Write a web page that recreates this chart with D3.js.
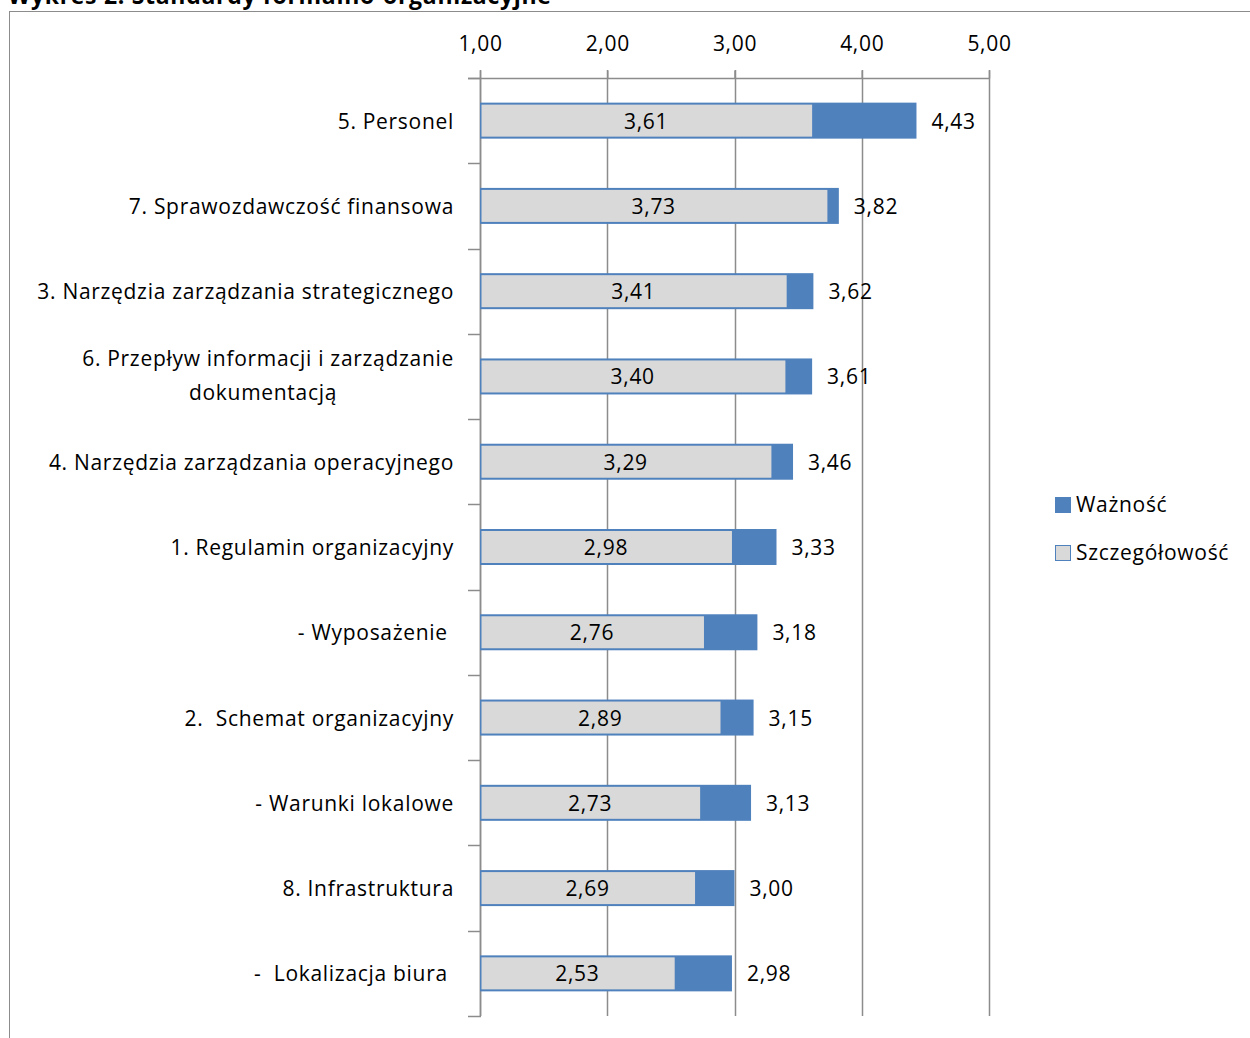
<!DOCTYPE html>
<html>
<head>
<meta charset="utf-8">
<script src="https://cdn.jsdelivr.net/npm/d3@7"></script>
<style>
  html, body { margin: 0; padding: 0; background: #fff; }
  svg text { font-family: "Open Sans", Lato, sans-serif; fill: #000; white-space: pre; letter-spacing: 0.7px; }
</style>
</head>
<body>
<svg id="chart" width="1250" height="1038"></svg>
<script>
// Categories, top to bottom
const categories = [
  "5. Personel",
  "7. Sprawozdawczość finansowa",
  "3. Narzędzia zarządzania strategicznego",
  "6. Przepływ informacji i zarządzanie|dokumentacją",
  "4. Narzędzia zarządzania operacyjnego",
  "1. Regulamin organizacyjny",
  "- Wyposażenie ",
  "2.  Schemat organizacyjny",
  "- Warunki lokalowe",
  "8. Infrastruktura",
  "-  Lokalizacja biura "
];
const waznosc = [4.43, 3.82, 3.62, 3.61, 3.46, 3.33, 3.18, 3.15, 3.13, 3.00, 2.98];
const szczegolowosc = [3.61, 3.73, 3.41, 3.40, 3.29, 2.98, 2.76, 2.89, 2.73, 2.69, 2.53];
const xTicks = [1, 2, 3, 4, 5];
const seriesNames = ["Ważność", "Szczegółowość"];

const FS = "21px";
const fmt = v => d3.format(".2f")(v).replace(".", ",");
const svg = d3.select("#chart");

// title (mostly above the visible area) and chart frame
svg.append("text").attr("x", 8).attr("y", 4)
  .style("font-weight", "bold").style("font-size", "23px")
  .text("Wykres 2. Standardy formalno-organizacyjne");
svg.append("rect").attr("x", 9.5).attr("y", 11.5).attr("width", 1260).attr("height", 1060)
  .attr("fill", "none").attr("stroke", "#8c8c8c").attr("stroke-width", 1);

const x = d3.scaleLinear().domain([1, 5]).range([480, 989]);
const y = d3.scaleBand().domain(d3.range(categories.length)).range([78, 1016]);
const barH = 36;

// vertical grid lines
svg.append("g").selectAll("line").data(xTicks).join("line")
  .attr("x1", d => Math.round(x(d)) + 0.5).attr("x2", d => Math.round(x(d)) + 0.5)
  .attr("y1", 70).attr("y2", 1016)
  .attr("stroke", "#8c8c8c").attr("stroke-width", 1.5);

// top axis
const topAxis = svg.append("g").attr("transform", "translate(0,78.5)")
  .call(d3.axisTop(x).tickValues(xTicks).tickFormat(fmt).tickSize(8).tickPadding(20));
topAxis.select(".domain").attr("stroke", "#8c8c8c").attr("stroke-width", 1.5)
  .attr("d", `M468,0H${x(5)}`);
topAxis.selectAll(".tick line").attr("stroke", "#8c8c8c").attr("stroke-width", 1.5);
topAxis.selectAll(".tick text").style("font-family", "'Open Sans', sans-serif").style("font-size", FS).attr("fill", "#000");

// category axis with ticks at band boundaries
const bounds = d3.range(categories.length + 1).map(i => 78 + i * y.step());
svg.append("line").attr("x1", 480.5).attr("x2", 480.5).attr("y1", 78).attr("y2", 1016)
  .attr("stroke", "#8c8c8c").attr("stroke-width", 1.5);
svg.append("g").selectAll("line").data(bounds).join("line")
  .attr("x1", 468).attr("x2", 481).attr("y1", d => Math.round(d) + 0.5).attr("y2", d => Math.round(d) + 0.5)
  .attr("stroke", "#8c8c8c").attr("stroke-width", 1.5);

// category labels
svg.append("g").selectAll("text").data(categories).join("text")
  .attr("text-anchor", "end").style("font-size", FS)
  .each(function (d, i) {
    const lines = d.split("|");
    const cy = y(i) + y.bandwidth() / 2;
    const t = d3.select(this);
    if (lines.length === 1) {
      t.attr("x", 454).attr("y", cy + 8).text(d);
    } else {
      t.attr("x", 454).attr("y", cy - 10).text(lines[0]);
      d3.select(this.parentNode).append("text").attr("text-anchor", "middle").style("font-size", FS)
        .attr("x", 263).attr("y", cy + 24).text(lines[1]);
    }
  });

// Ważność bars (blue), drawn behind
const bars = svg.append("g");
bars.selectAll("rect.w").data(waznosc).join("rect").attr("class", "w")
  .attr("x", x(1)).attr("y", (d, i) => y(i) + (y.bandwidth() - barH) / 2)
  .attr("width", d => x(d) - x(1)).attr("height", barH)
  .attr("fill", "#4f81bd");
// Szczegółowość bars (grey) on top, inset inside the blue outline
bars.selectAll("rect.s").data(szczegolowosc).join("rect").attr("class", "s")
  .attr("x", x(1) + 1.5).attr("y", (d, i) => y(i) + (y.bandwidth() - barH) / 2 + 2)
  .attr("width", d => x(d) - x(1) - 1.5).attr("height", barH - 4)
  .attr("fill", "#d9d9d9");

// value labels
svg.append("g").selectAll("text").data(szczegolowosc).join("text")
  .attr("text-anchor", "middle").style("font-size", FS)
  .attr("x", d => (x(1) + x(d)) / 2).attr("y", (d, i) => y(i) + y.bandwidth() / 2 + 8)
  .text(fmt);
svg.append("g").selectAll("text").data(waznosc).join("text")
  .attr("text-anchor", "start").style("font-size", FS)
  .attr("x", d => x(d) + 15).attr("y", (d, i) => y(i) + y.bandwidth() / 2 + 8)
  .text(fmt);

// legend
const legend = svg.append("g");
const legendColors = ["#4f81bd", "#d9d9d9"];
seriesNames.forEach((name, i) => {
  const ly = 497 + i * 48;
  legend.append("rect").attr("x", 1055.5).attr("y", ly + 0.5).attr("width", 15).attr("height", 15)
    .attr("fill", legendColors[i]).attr("stroke", "#4f81bd").attr("stroke-width", 1);
  legend.append("text").attr("x", 1076).attr("y", ly + 15).style("font-size", FS).text(name);
});
</script>
</body>
</html>
